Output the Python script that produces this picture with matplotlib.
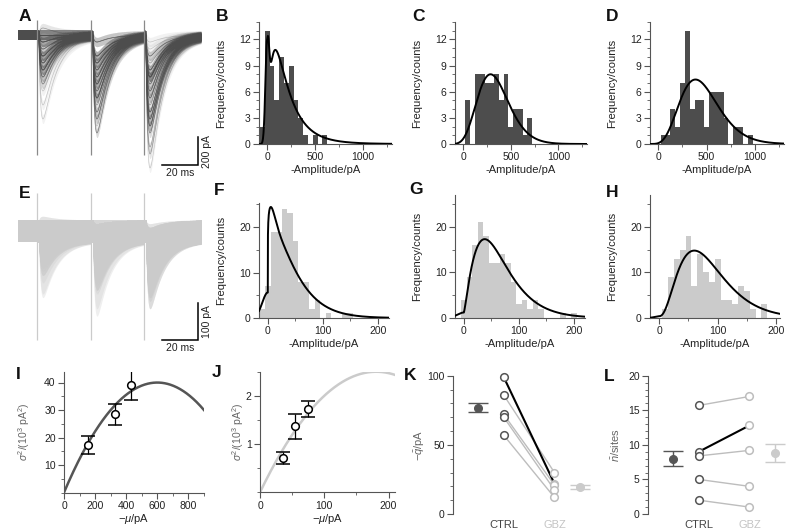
import numpy as np
import matplotlib
matplotlib.use('Agg')
import matplotlib.pyplot as plt
from matplotlib.ticker import MultipleLocator

plt.rcParams['font.family'] = ['Liberation Sans', 'DejaVu Sans']
plt.rcParams['mathtext.fontset'] = 'custom'
plt.rcParams['mathtext.rm'] = 'Liberation Sans'
plt.rcParams['mathtext.it'] = 'Liberation Sans:italic'
plt.rcParams['mathtext.bf'] = 'Liberation Sans:bold'

# ---------------- data ----------------
# control amplitude histograms (B, C, D), bin width 50 pA
ctrl_bin = 50
B_centers = [-50, 0, 50, 100, 150, 200, 250, 300, 350, 400, 450, 500, 550, 600]
B_counts = [2, 13, 9, 5, 10, 7, 9, 5, 3, 1, 0, 1, 0, 1]
C_centers = [50, 100, 150, 200, 250, 300, 350, 400, 450, 500, 550, 600, 650, 700]
C_counts = [5, 0, 8, 8, 7, 7, 8, 5, 8, 2, 4, 4, 1, 3]
D_centers = [50, 100, 150, 200, 250, 300, 350, 400, 450, 500, 550, 600, 650, 700,
             750, 800, 850, 900, 950]
D_counts = [1, 1, 4, 2, 7, 13, 4, 5, 5, 2, 6, 6, 6, 3, 0, 2, 2, 0, 1]

# gabazine amplitude histograms (F, G, H), bin width 10 pA
gbz_bin = 10
F_centers = [-10, 0, 10, 20, 30, 40, 50, 60, 70, 80, 90, 100, 110, 120, 130, 140, 150]
F_counts = [2, 7, 19, 19, 24, 23, 17, 8, 8, 2, 4, 0, 1, 0, 0, 1, 1]
G_centers = [0, 10, 20, 30, 40, 50, 60, 70, 80, 90, 100, 110, 120, 130, 140, 150,
             160, 170, 180, 190, 200]
G_counts = [4, 9, 16, 21, 18, 12, 12, 14, 12, 8, 3, 4, 2, 4, 2, 0, 0, 0, 1, 0, 1]
H_centers = [10, 20, 30, 40, 50, 60, 70, 80, 90, 100, 110, 120, 130, 140, 150, 160,
             170, 180]
H_counts = [2, 9, 13, 15, 18, 7, 14, 10, 8, 13, 4, 4, 3, 7, 6, 2, 0, 3]

# fitted amplitude distributions: success peak height, mode, onset, shape, tail
# exponent, failure-peak height, failure-peak width
B_fit = [10.8, 85, 0, 2.0, 0.5, 12.0, 18]
C_fit = [8.0, 288, -207, 9.0, 1.0, 0.0, 1]
D_fit = [7.4, 385, -120, 6.4, 1.0, 0.0, 1]
F_fit = [20.0, 9, 0, 0.163, 1.2, 5.6, 10]
G_fit = [17.3, 38, 0, 1.35, 1.0, 1.2, 12]
H_fit = [14.8, 60, 0, 2.3, 1.0, 0.4, 8]

# variance-mean analysis (I: control, J: gabazine)
I_mean = [155, 330, 430]
I_var = [17.2, 28.4, 39.0]
I_err = [3.3, 3.9, 5.4]
I_q, I_N = 133.3, 9.0
J_mean = [35, 55, 75]
J_var = [0.72, 1.38, 1.74]
J_err = [0.13, 0.26, 0.17]
J_q, J_N = 27.8, 13.0

# per-cell quantal size (K) and number of sites (L)
groups = ['CTRL', 'GBZ']
K_ctrl = [99, 86, 72, 70, 57]
K_gbz = [22, 30, 21, 17.5, 12]
K_mean = [77.0, 19.3]
K_sem = [3.3, 1.5]
L_ctrl = [15.7, 9.0, 8.4, 5.0, 2.0]
L_gbz = [17.0, 12.8, 9.2, 4.0, 1.0]
L_mean = [8.0, 8.8]
L_sem = [1.1, 1.3]
K_highlight = 0
L_highlight = 1

# example traces (A, E)
stim_times = [10.5, 40.5, 70.0]          # ms
A_artifact = [110, -860]                  # pA
E_artifact = [103, -295]
scale_A = [20, 200]                       # ms, pA
scale_E = [20, 100]

# ---------------- style ----------------
DARK = '#4d4d4d'
LIGHT = '#cbcbcb'
SPINE = '#555555'
TXT = '#222222'

fig = plt.figure(figsize=(8, 5.32), dpi=100)


def add_ax(l, r, t, b):
    return fig.add_axes([l / 800, 1 - b / 532, (r - l) / 800, (b - t) / 532])


def style(ax, left=True, bottom=True):
    for s in ['top', 'right']:
        ax.spines[s].set_visible(False)
    for s in ['left', 'bottom']:
        ax.spines[s].set_color(SPINE)
        ax.spines[s].set_linewidth(0.8)
    if not bottom:
        ax.spines['bottom'].set_visible(False)
    ax.tick_params(which='major', length=4, width=0.8, color=SPINE, labelsize=7.5,
                   labelcolor=TXT, pad=2)
    ax.tick_params(which='minor', length=2.2, width=0.6, color=SPINE)


def letter(x, y, s):
    fig.text(x / 800, 1 - y / 532, s, fontsize=12.5, fontweight='bold',
             ha='left', va='top', color='#111')


def fit_curve(x, A, m, x0, k, p, fA, fs):
    r = np.clip((x - x0) / (m - x0), 1e-12, None)
    succ = np.where(x > x0, A * np.exp(k * (np.log(r) - (r ** p - 1) / p)), 0.0)
    fail = fA * np.exp(-x ** 2 / (2.0 * fs ** 2))
    return succ + fail


def psc(t):
    delay, tr, td = 1.0, 1.0, 8.0
    tt = t - delay
    tp = np.log(td / tr) * tr * td / (td - tr)
    norm = np.exp(-tp / td) - np.exp(-tp / tr)
    return np.where(tt > 0, (np.exp(-tt / td) - np.exp(-tt / tr)) / norm, 0.0)


def traces(ax, amp_sets, color, noise, a_fill, line_alpha, art, art_color, tmax):
    t_edges = list(stim_times) + [tmax]
    tb = np.linspace(0, stim_times[0], 40)
    for _ in range(len(amp_sets[0])):
        ax.fill_between(tb, -noise, noise, color=color, alpha=a_fill, lw=0)
    for k, amps in enumerate(amp_sets):
        t = np.linspace(t_edges[k], t_edges[k + 1], 300)
        for a in amps:
            y = -a * psc(t - t_edges[k])
            ax.fill_between(t, y - noise, y + noise, color=color, alpha=a_fill, lw=0)
            if line_alpha > 0:
                ax.plot(t, y, color=color, lw=0.45, alpha=line_alpha)
    ax.vlines(stim_times, art[1], art[0], color=art_color, lw=0.9)
    ax.axis('off')


def expand(centers, counts):
    return np.repeat(np.array(centers, float), counts)


# ---------------- A ----------------
axA = add_ax(18, 201, 15, 172)
traces(axA, [expand(B_centers, B_counts), expand(C_centers, C_counts),
             expand(D_centers, D_counts)], DARK, 33, 0.07, 0.3, A_artifact, '#8a8a8a', 101.7)
axA.set_xlim(0, 101.7)
axA.set_ylim(-979, 143)
xb, yb = 100, -930
axA.plot([xb - scale_A[0], xb, xb], [yb, yb, yb + scale_A[1]], color='k', lw=1.1,
         solid_joinstyle='miter', clip_on=False)
axA.annotate(f'{scale_A[0]} ms', (xb - scale_A[0] / 2, yb), xytext=(0, -2),
             textcoords='offset points', ha='center', va='top', fontsize=7.5, color=TXT)
axA.annotate(f'{scale_A[1]} pA', (xb, yb + scale_A[1] / 2), xytext=(3, 0),
             textcoords='offset points', ha='left', va='center', rotation=90,
             fontsize=7.5, color=TXT)

# ---------------- E ----------------
axE = add_ax(18, 201, 180, 347)
traces(axE, [expand(F_centers, F_counts), expand(G_centers, G_counts),
             expand(H_centers, H_counts)], LIGHT, 30, 0.3, 0.0, E_artifact, LIGHT, 101.7)
axE.set_xlim(0, 101.7)
axE.set_ylim(-313.5, 138)
xb, yb = 100, -294
axE.plot([xb - scale_E[0], xb, xb], [yb, yb, yb + scale_E[1]], color='k', lw=1.1,
         solid_joinstyle='miter', clip_on=False)
axE.annotate(f'{scale_E[0]} ms', (xb - scale_E[0] / 2, yb), xytext=(0, -2),
             textcoords='offset points', ha='center', va='top', fontsize=7.5, color=TXT)
axE.annotate(f'{scale_E[1]} pA', (xb, yb + scale_E[1] / 2), xytext=(3, 0),
             textcoords='offset points', ha='left', va='center', rotation=90,
             fontsize=7.5, color=TXT)

# ---------------- histograms ----------------
hist_specs = [
    ((259, 392, 22, 144), B_centers, B_counts, ctrl_bin, DARK, B_fit, True),
    ((455, 587, 22, 144), C_centers, C_counts, ctrl_bin, DARK, C_fit, True),
    ((650, 784, 22, 144), D_centers, D_counts, ctrl_bin, DARK, D_fit, True),
    ((259, 389, 203, 318), F_centers, F_counts, gbz_bin, LIGHT, F_fit, False),
    ((455, 585, 195, 318), G_centers, G_counts, gbz_bin, LIGHT, G_fit, False),
    ((650, 780, 195, 318), H_centers, H_counts, gbz_bin, LIGHT, H_fit, False),
]
for (box, cen, cnt, bw, col, fp, ctrl) in hist_specs:
    ax = add_ax(*box)
    style(ax)
    ax.bar(cen, cnt, width=bw, color=col, lw=0, align='center', zorder=1)
    if ctrl:
        xl = (-85, 1300)
        ax.set_ylim(0, 14)
        ax.yaxis.set_major_locator(MultipleLocator(3))
        ax.yaxis.set_minor_locator(MultipleLocator(1))
        ax.xaxis.set_major_locator(MultipleLocator(500))
        ax.xaxis.set_minor_locator(MultipleLocator(250))
    else:
        xl = (-16, 220) if box[0] != 650 else (-16, 207)
        ax.set_ylim(0, 25.3 if box[0] == 259 else 27)
        ax.yaxis.set_major_locator(MultipleLocator(10))
        ax.yaxis.set_minor_locator(MultipleLocator(5))
        ax.xaxis.set_major_locator(MultipleLocator(100))
        ax.xaxis.set_minor_locator(MultipleLocator(50))
    ax.set_xlim(*xl)
    xs = np.linspace(xl[0], xl[1], 800)
    ax.plot(xs, fit_curve(xs, *fp), color='k', lw=1.4, zorder=3)
    ax.set_xlabel('-Amplitude/pA', fontsize=8, color=TXT, labelpad=2)
    ax.set_ylabel('Frequency/counts', fontsize=8, color=TXT, labelpad=9)

# ---------------- I ----------------
axI = add_ax(64, 204, 371.5, 492.5)
style(axI)
mu = np.linspace(0, 900, 300)
axI.plot(mu, (I_q * mu - mu ** 2 / I_N) / 1000, color='#555', lw=1.8, zorder=1)
axI.errorbar(I_mean, I_var, yerr=I_err, fmt='o', ms=5.5, mfc='white', mec='k', mew=1.1,
             ecolor='k', elinewidth=0.9, capsize=5, capthick=0.9, zorder=3)
axI.set_xlim(0, 900)
axI.set_ylim(0, 44)
axI.xaxis.set_major_locator(MultipleLocator(200))
axI.xaxis.set_minor_locator(MultipleLocator(100))
axI.set_yticks([10, 20, 30, 40])
axI.yaxis.set_minor_locator(MultipleLocator(5))
axI.set_xlabel(r'$-\mu$/pA', fontsize=8, color=TXT, labelpad=1)
axI.set_ylabel(r'$\sigma^2/(10^3$ pA$^2)$', fontsize=7.5, color='#666', labelpad=9)

# ---------------- J ----------------
axJ = add_ax(260, 395, 372.3, 492.3)
style(axJ)
mu = np.linspace(0, 210, 300)
axJ.plot(mu, (J_q * mu - mu ** 2 / J_N) / 1000, color=LIGHT, lw=1.8, zorder=1)
axJ.errorbar(J_mean, J_var, yerr=J_err, fmt='o', ms=5.5, mfc='white', mec='k', mew=1.1,
             ecolor='k', elinewidth=0.9, capsize=5, capthick=0.9, zorder=3)
axJ.set_xlim(0, 210)
axJ.set_ylim(0, 2.5)
axJ.xaxis.set_major_locator(MultipleLocator(100))
axJ.xaxis.set_minor_locator(MultipleLocator(50))
axJ.set_yticks([1, 2])
axJ.yaxis.set_minor_locator(MultipleLocator(0.5))
axJ.set_xlabel(r'$-\mu$/pA', fontsize=8, color=TXT, labelpad=1)
axJ.set_ylabel(r'$\sigma^2/(10^3$ pA$^2)$', fontsize=7.5, color='#666', labelpad=0)


# ---------------- K, L ----------------
def paired(box, ctrl, gbz, means, sems, hi, ylim, major, minor, ylabel, lpad):
    ax = add_ax(*box)
    style(ax, bottom=False)
    for i, (c, g) in enumerate(zip(ctrl, gbz)):
        if i != hi:
            ax.plot([0, 1], [c, g], color='#bdbdbd', lw=1.0, zorder=1)
    ax.plot([0, 1], [ctrl[hi], gbz[hi]], color='k', lw=1.5, zorder=2)
    ax.plot(np.zeros(len(ctrl)), ctrl, 'o', ms=5.5, mfc='white', mec='#555', mew=1.1,
            zorder=3, clip_on=False)
    ax.plot(np.ones(len(gbz)), gbz, 'o', ms=5.5, mfc='white', mec='#bdbdbd', mew=1.1,
            zorder=3, clip_on=False)
    for x, m, s, c in zip([-0.5, 1.5], means, sems, ['#555', LIGHT]):
        ax.errorbar([x], [m], yerr=[s], fmt='o', ms=5.5, color=c, mec=c, ecolor=c,
                    elinewidth=1.0, capsize=7, capthick=1.0, zorder=3)
    ax.set_xlim(-1.0, 1.8)
    ax.set_ylim(*ylim)
    ax.yaxis.set_major_locator(MultipleLocator(major))
    ax.yaxis.set_minor_locator(MultipleLocator(minor))
    ax.set_xticks([0, 1])
    ax.set_xticklabels(groups, fontsize=8)
    ax.tick_params(axis='x', length=0, pad=4)
    ax.get_xticklabels()[0].set_color('#444')
    ax.get_xticklabels()[1].set_color('#c4c4c4')
    ax.set_ylabel(ylabel, fontsize=8, color='#666', labelpad=lpad)
    return ax


paired((453, 595, 375.7, 514), K_ctrl, K_gbz, K_mean, K_sem, K_highlight, (0, 100),
       50, 10, r'$-\bar{q}$/pA', 0)
paired((648, 790, 375.7, 514), L_ctrl, L_gbz, L_mean, L_sem, L_highlight, (0, 20),
       5, 1, r'$\bar{n}$/sites', 4)

# ---------------- panel letters ----------------
for (x, y, s) in [(19, 9, 'A'), (216, 9, 'B'), (412, 9, 'C'), (606, 9, 'D'),
                  (19, 186, 'E'), (214, 183, 'F'), (409, 182, 'G'), (606, 185, 'H'),
                  (16, 367, 'I'), (212, 365, 'J'), (404, 368, 'K'), (604, 369, 'L')]:
    letter(x, y, s)

fig.savefig('out.png', dpi=100)
